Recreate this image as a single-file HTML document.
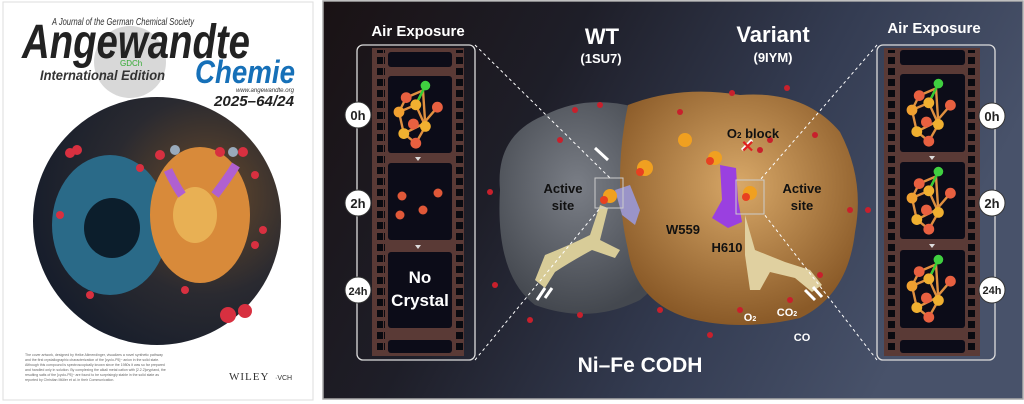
<!DOCTYPE html>
<html><head><meta charset="utf-8"><style>
html,body{margin:0;padding:0;width:1024px;height:404px;overflow:hidden;background:#fff;font-family:"Liberation Sans",sans-serif}
svg{position:absolute;left:0;top:0}
</style></head><body>
<svg width="1024" height="404" viewBox="0 0 1024 404" xmlns="http://www.w3.org/2000/svg">
<defs>
<radialGradient id="cov" cx="0.7" cy="0.4" r="0.8"><stop offset="0" stop-color="#6a4a2a"/><stop offset="0.5" stop-color="#2a2a30"/><stop offset="1" stop-color="#121a2a"/></radialGradient>
<linearGradient id="bg" x1="0" y1="0" x2="1" y2="0.3"><stop offset="0" stop-color="#1a1214"/><stop offset="0.35" stop-color="#1e1e28"/><stop offset="0.7" stop-color="#343c52"/><stop offset="1" stop-color="#48526a"/></linearGradient>
<radialGradient id="gray" cx="0.45" cy="0.4" r="0.6"><stop offset="0" stop-color="#7a7e86"/><stop offset="1" stop-color="#44484f"/></radialGradient>
<radialGradient id="org" cx="0.5" cy="0.4" r="0.6"><stop offset="0" stop-color="#d8a868"/><stop offset="1" stop-color="#8a5a28"/></radialGradient>
<pattern id="sp" x="0" y="0" width="8" height="11" patternUnits="userSpaceOnUse"><rect x="0" y="2" width="7" height="7" fill="#0a0a10"/></pattern>
<g id="cl">
<g stroke="#e09040" stroke-width="2" fill="none"><path d="M0 0 L14 -6 L20 -18 L6 -12 Z M0 0 L4 18 L14 26 L22 12 L14 -6 M4 18 L20 10 L32 -4 M22 12 L20 -18"/></g>
<line x1="14" y1="-6" x2="22" y2="-22" stroke="#3c3" stroke-width="2"/>
<circle cx="22" cy="-22" r="4" fill="#40d040"/>
<circle cx="0" cy="0" r="4.5" fill="#f0a030"/><circle cx="14" cy="-6" r="4.5" fill="#f0b030"/><circle cx="6" cy="-12" r="4.5" fill="#e86040"/>
<circle cx="4" cy="18" r="4.5" fill="#f0b030"/><circle cx="14" cy="26" r="4.5" fill="#e86040"/><circle cx="22" cy="12" r="4.5" fill="#f0b030"/>
<circle cx="32" cy="-4" r="4.5" fill="#e86040"/><circle cx="12" cy="10" r="4.5" fill="#e86040"/>
</g>
</defs>
<!-- left cover -->
<rect x="0" y="0" width="318" height="404" fill="#fff"/>
<rect x="3" y="2" width="310" height="398" fill="#fff" stroke="#ddd"/>
<circle cx="130" cy="62" r="36" fill="#d8d8d8"/>
<text x="52" y="25" font-size="10" font-style="italic" fill="#333" textLength="142" lengthAdjust="spacingAndGlyphs">A Journal of the German Chemical Society</text>
<text x="22" y="58" font-size="48" font-weight="bold" font-style="italic" fill="#222" textLength="228" lengthAdjust="spacingAndGlyphs">Angewandte</text>
<text x="120" y="66" font-size="8" fill="#3a3">GDCh</text>
<text x="40" y="80" font-size="14" font-weight="bold" font-style="italic" fill="#333" textLength="125" lengthAdjust="spacingAndGlyphs">International Edition</text>
<text x="195" y="83" font-size="32" font-weight="bold" font-style="italic" fill="#1670b8" textLength="100" lengthAdjust="spacingAndGlyphs">Chemie</text>
<text x="236" y="92" font-size="6" font-style="italic" fill="#333" textLength="58" lengthAdjust="spacingAndGlyphs">www.angewandte.org</text>
<text x="214" y="106" font-size="15" font-weight="bold" font-style="italic" fill="#222" textLength="80" lengthAdjust="spacingAndGlyphs">2025–64/24</text>
<circle cx="157" cy="221" r="124" fill="url(#cov)"/>
<ellipse cx="110" cy="225" rx="58" ry="70" fill="#2a6a88"/>
<ellipse cx="112" cy="228" rx="28" ry="30" fill="#0c1e2c"/>
<ellipse cx="200" cy="215" rx="50" ry="68" fill="#d88a3a"/>
<ellipse cx="195" cy="215" rx="22" ry="28" fill="#f0c060" opacity="0.7"/>
<path d="M168 170 Q175 185 182 195" stroke="#b060d0" stroke-width="9" fill="none"/>
<path d="M215 195 Q228 178 236 165" stroke="#b060d0" stroke-width="9" fill="none"/>
<g fill="#d83040"><circle cx="70" cy="153" r="5"/><circle cx="77" cy="150" r="5"/><circle cx="140" cy="168" r="4"/><circle cx="60" cy="215" r="4"/><circle cx="255" cy="175" r="4"/><circle cx="263" cy="230" r="4"/><circle cx="255" cy="245" r="4"/><circle cx="90" cy="295" r="4"/><circle cx="185" cy="290" r="4"/><circle cx="228" cy="315" r="8"/><circle cx="245" cy="311" r="7"/><circle cx="220" cy="152" r="5"/><circle cx="243" cy="152" r="5"/><circle cx="160" cy="155" r="5"/></g>
<g fill="#9ab"><circle cx="175" cy="150" r="5"/><circle cx="233" cy="152" r="5"/></g>
<g fill="#666" font-size="3.5"><text x="25" y="356">The cover artwork, designed by Heike Allmendinger, visualizes a novel synthetic pathway</text><text x="25" y="361">and the first crystallographic characterization of the [cyclo-P5]− anion in the solid state.</text><text x="25" y="366">Although this compound is spectroscopically known since the 1980s it was so far prepared</text><text x="25" y="371">and handled only in solution. By complexing the alkali metal cation with [2.2.2]cryptand, the</text><text x="25" y="376">resulting salts of the [cyclo-P5]− are found to be surprisingly stable in the solid state as</text><text x="25" y="381">reported by Christian Müller et al. in their Communication.</text></g>
<text x="229" y="380" font-size="11" fill="#333" font-family="Liberation Serif" letter-spacing="1">WILEY</text><text x="275" y="380" font-size="7" fill="#333">·VCH</text>
<rect x="318" y="0" width="6" height="404" fill="#fff"/>
<!-- right panel -->
<rect x="323" y="1" width="700" height="398" fill="url(#bg)" stroke="#aaa" stroke-width="1.5"/>
<!-- proteins -->
<path d="M500 190 Q495 135 545 115 Q590 92 645 110 Q680 140 668 200 Q685 265 640 300 Q590 325 535 305 Q495 275 500 190 Z" fill="url(#gray)"/>
<path d="M628 105 Q680 85 740 95 Q805 90 840 132 Q865 180 855 232 Q848 295 800 318 Q740 332 688 318 Q636 302 628 250 Q612 180 628 105 Z" fill="url(#org)"/>
<path d="M545 255 Q570 245 590 235 L600 205 L608 208 L600 240 L620 250 L615 258 L592 250 Q570 262 555 272 L545 288 L535 280 Z" fill="#d8cc98"/>
<path d="M745 215 L755 250 L785 262 L810 270 L822 285 L812 292 L795 278 L770 272 L760 290 L750 290 L745 255 Z" fill="#e0d0a0"/>
<path d="M615 190 L630 185 L640 210 L635 225 L622 215 Z" fill="#9a94c8"/>
<path d="M720 165 L736 168 L738 200 L742 222 L728 228 L712 218 L722 200 Z" fill="#9a40e0"/>
<g fill="#f0a020"><circle cx="610" cy="196" r="7"/><circle cx="645" cy="168" r="8"/><circle cx="715" cy="158" r="7"/><circle cx="750" cy="193" r="7"/><circle cx="685" cy="140" r="7"/></g>
<g fill="#e84020"><circle cx="604" cy="200" r="4"/><circle cx="640" cy="172" r="4"/><circle cx="710" cy="161" r="4"/><circle cx="746" cy="197" r="4"/></g>
<rect x="595" y="178" width="28" height="30" fill="none" stroke="#ccc" stroke-width="1"/>
<rect x="736" y="180" width="28" height="34" fill="none" stroke="#ccc" stroke-width="1"/>
<g stroke="#fff" stroke-width="1" stroke-dasharray="3,3" fill="none"><line x1="475" y1="45" x2="610" y2="178"/><line x1="475" y1="360" x2="600" y2="208"/><line x1="877" y1="45" x2="760" y2="180"/><line x1="877" y1="360" x2="764" y2="214"/></g>
<g fill="#c8202c"><circle cx="575" cy="110" r="3"/><circle cx="600" cy="105" r="3"/><circle cx="560" cy="140" r="3"/><circle cx="490" cy="192" r="3"/><circle cx="495" cy="285" r="3"/><circle cx="580" cy="315" r="3"/><circle cx="660" cy="310" r="3"/><circle cx="740" cy="310" r="3"/><circle cx="790" cy="300" r="3"/><circle cx="820" cy="275" r="3"/><circle cx="850" cy="210" r="3"/><circle cx="868" cy="210" r="3"/><circle cx="760" cy="150" r="3"/><circle cx="770" cy="140" r="3"/><circle cx="732" cy="93" r="3"/><circle cx="787" cy="88" r="3"/><circle cx="815" cy="135" r="3"/><circle cx="680" cy="112" r="3"/><circle cx="530" cy="320" r="3"/><circle cx="710" cy="335" r="3"/></g>
<g stroke="#fff" stroke-width="3"><line x1="595" y1="148" x2="608" y2="160"/><line x1="537" y1="300" x2="545" y2="288"/><line x1="545" y1="298" x2="552" y2="288"/><line x1="805" y1="290" x2="815" y2="300"/><line x1="813" y1="287" x2="822" y2="297"/><line x1="742" y1="150" x2="752" y2="140"/></g>
<text x="741" y="152" font-size="16" fill="#e02020" font-weight="bold">✕</text>
<g fill="#fff" font-weight="bold" text-anchor="middle">
<text x="418" y="36" font-size="15">Air Exposure</text>
<text x="934" y="33" font-size="15">Air Exposure</text>
<text x="602" y="44" font-size="22">WT</text>
<text x="601" y="63" font-size="13">(1SU7)</text>
<text x="773" y="42" font-size="22">Variant</text>
<text x="773" y="62" font-size="13">(9IYM)</text>
<text x="640" y="372" font-size="21">Ni–Fe CODH</text>
<text x="750" y="321" font-size="11">O<tspan font-size="7">2</tspan></text>
<text x="787" y="316" font-size="11">CO<tspan font-size="7">2</tspan></text>
<text x="802" y="341" font-size="11">CO</text>
</g>
<g fill="#111" font-weight="bold" text-anchor="middle" font-size="13">
<text x="563" y="193">Active</text><text x="563" y="210">site</text>
<text x="802" y="193">Active</text><text x="802" y="210">site</text>
<text x="683" y="234">W559</text><text x="727" y="252">H610</text>
<text x="753" y="138">O<tspan font-size="8">2</tspan> block</text>
</g>
<!-- left film -->
<rect x="357" y="45" width="118" height="315" rx="6" fill="none" stroke="#ddd" stroke-width="1.3"/>
<rect x="372" y="48" width="92" height="308" fill="#5a3a36"/>
<rect x="377" y="50" width="8" height="304" fill="url(#sp)"/>
<rect x="455" y="50" width="8" height="304" fill="url(#sp)"/>
<g fill="#0c0c18"><rect x="388" y="52" width="64" height="15" rx="3"/><rect x="388" y="76" width="64" height="77" rx="3"/><rect x="388" y="163" width="64" height="77" rx="3"/><rect x="388" y="252" width="64" height="76" rx="3"/><rect x="388" y="340" width="64" height="13" rx="3"/></g>
<use href="#cl" transform="translate(399 112) scale(1.2)"/>
<g fill="#e05838"><circle cx="402" cy="196" r="4.5"/><circle cx="438" cy="193" r="4.5"/><circle cx="400" cy="215" r="4.5"/><circle cx="423" cy="210" r="4.5"/></g>
<text x="420" y="283" font-size="17" font-weight="bold" fill="#fff" text-anchor="middle">No</text>
<text x="420" y="306" font-size="17" font-weight="bold" fill="#fff" text-anchor="middle">Crystal</text>
<g fill="#ddd"><path d="M415 157 h6 l-3 4 z"/><path d="M415 245 h6 l-3 4 z"/></g>
<!-- right film -->
<rect x="877" y="45" width="118" height="315" rx="6" fill="none" stroke="#ddd" stroke-width="1.3"/>
<rect x="884" y="48" width="96" height="308" fill="#5a3a36"/>
<rect x="888" y="50" width="8" height="304" fill="url(#sp)"/>
<rect x="968" y="50" width="8" height="304" fill="url(#sp)"/>
<g fill="#0c0c18"><rect x="900" y="50" width="65" height="15" rx="3"/><rect x="900" y="74" width="65" height="78" rx="3"/><rect x="900" y="162" width="65" height="77" rx="3"/><rect x="900" y="250" width="65" height="78" rx="3"/><rect x="900" y="340" width="65" height="13" rx="3"/></g>
<use href="#cl" transform="translate(912 110) scale(1.2)"/><use href="#cl" transform="translate(912 198) scale(1.2)"/><use href="#cl" transform="translate(912 286) scale(1.2)"/>
<g fill="#ddd"><path d="M929 156 h6 l-3 4 z"/><path d="M929 244 h6 l-3 4 z"/></g>
<!-- hour labels -->
<g fill="#fff" stroke="#333" stroke-width="1"><circle cx="358" cy="115" r="13"/><circle cx="358" cy="203" r="13"/><circle cx="358" cy="290" r="13"/><circle cx="992" cy="116" r="13"/><circle cx="992" cy="203" r="13"/><circle cx="992" cy="290" r="13"/></g>
<g fill="#222" font-weight="bold" font-size="13" text-anchor="middle"><text x="358" y="120">0h</text><text x="358" y="208">2h</text><text x="358" y="295" font-size="11">24h</text><text x="992" y="121">0h</text><text x="992" y="208">2h</text><text x="992" y="294" font-size="11">24h</text></g>
</svg>
</body></html>
